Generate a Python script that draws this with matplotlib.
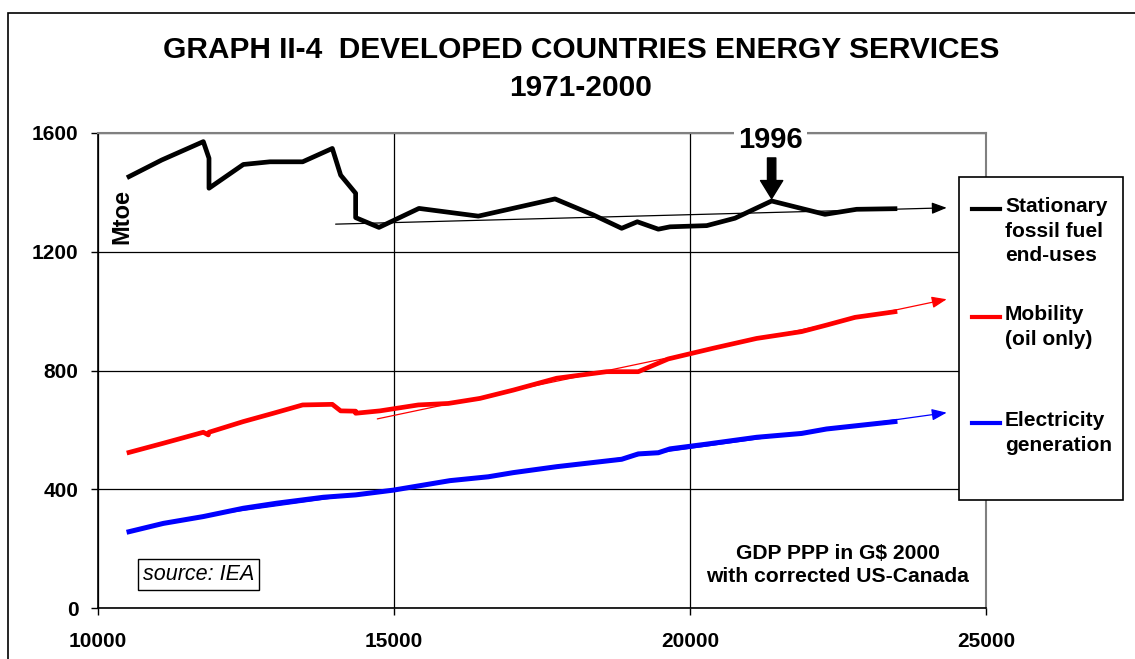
import matplotlib
matplotlib.use("Agg")
import matplotlib.pyplot as plt
from matplotlib.lines import Line2D
from matplotlib.patches import Rectangle

plt.rcParams['font.family'] = ['Liberation Sans', 'DejaVu Sans']

# GDP PPP (G$ 2000) and energy services (Mtoe), 1971-2000
gdp_stat = [10524, 11076, 11779, 11875, 11875, 12455, 12905, 13457, 13958, 14099,
            14352, 14352, 14746, 15422, 16424, 17720, 18367, 18846, 19110, 19465,
            19662, 20282, 20760, 21379, 22280, 22815, 23462]
stationary = [1453, 1509, 1571, 1515, 1414, 1494, 1503, 1503, 1548, 1458,
              1397, 1315, 1282, 1346, 1320, 1378, 1324, 1279, 1301, 1276,
              1284, 1288, 1313, 1371, 1326, 1343, 1345]

gdp_mob = [10524, 11104, 11779, 11863, 11875, 12455, 12962, 13457, 13958, 14099,
           14352, 14352, 14763, 15411, 15917, 16452, 17015, 17748, 18592, 19126,
           19633, 20393, 21125, 21885, 22307, 22787, 23462]
mobility = [524, 555, 592, 583, 592, 628, 656, 684, 686, 664,
            663, 656, 664, 684, 689, 706, 734, 774, 796, 796,
            839, 875, 908, 931, 953, 979, 998]

gdp_elec = [10524, 11104, 11779, 12455, 13019, 13806, 14352, 14988, 15946, 16593,
            17015, 17748, 18846, 19126, 19465, 19662, 20282, 21125, 21885, 22307, 23462]
electricity = [257, 285, 308, 336, 353, 373, 381, 397, 429, 442,
               456, 476, 501, 519, 523, 536, 552, 575, 588, 603, 628]

# trend arrows: (gdp start, value start, gdp end, value end)
trend_stat = (14014, 1293, 24336, 1348)
trend_mob = (14718, 637, 24336, 1040)
trend_elec = (11779, 310, 24336, 658)

peak_gdp, peak_val = 21379, 1371

x_ticks = [10000, 15000, 20000, 25000]
y_ticks = [0, 400, 800, 1200, 1600]

legend_labels = ["Stationary\nfossil fuel\nend-uses", "Mobility\n(oil only)",
                 "Electricity\ngeneration"]
colors = ["black", "red", "blue"]

W, H = 1135, 659
fig = plt.figure(figsize=(W / 100, H / 100), dpi=100)
ax = fig.add_axes([98 / W, 1 - 608 / H, 888 / W, 475 / H])

# outer frame of the chart
fig.add_artist(Rectangle((8 / W, -0.2), 1.2, 1 - 13 / H + 0.2, transform=fig.transFigure,
                         fill=False, edgecolor="black", linewidth=1.2))

ax.plot(gdp_stat, stationary, color="black", lw=3.4, zorder=4)
ax.plot(gdp_mob, mobility, color="red", lw=3.4, zorder=4)
ax.plot(gdp_elec, electricity, color="blue", lw=3.6, zorder=4)

for tr, c in zip([trend_stat, trend_mob, trend_elec], colors):
    ax.annotate("", xy=(tr[2], tr[3]), xytext=(tr[0], tr[1]),
                arrowprops=dict(arrowstyle="-|>,head_length=0.9,head_width=0.35",
                                color=c, lw=0.9, shrinkA=0, shrinkB=0), zorder=3)

ax.set_xlim(10000, 25000)
ax.set_ylim(0, 1600)
ax.set_xticks(x_ticks)
ax.set_yticks(y_ticks)
ax.set_xticklabels([str(v) for v in x_ticks])
ax.set_yticklabels([str(v) for v in y_ticks])
ax.tick_params(axis="both", labelsize=15, direction="out", length=5, width=1)
ax.tick_params(axis="y", pad=9)
ax.tick_params(axis="x", pad=12)
for lab in ax.get_xticklabels() + ax.get_yticklabels():
    lab.set_fontweight("bold")

ax.grid(True, color="black", lw=0.9)
ax.set_axisbelow(True)
ax.spines["top"].set_color("#808080")
ax.spines["right"].set_color("#808080")
ax.spines["top"].set_linewidth(1.5)
ax.spines["right"].set_linewidth(1.5)
ax.spines["left"].set_linewidth(1.2)
ax.spines["bottom"].set_linewidth(1.2)

fig.text(581 / W, 1 - 50 / H, "GRAPH II-4  DEVELOPED COUNTRIES ENERGY SERVICES",
         ha="center", va="center", fontsize=21.5, fontweight="bold")
fig.text(581 / W, 1 - 88 / H, "1971-2000", ha="center", va="center",
         fontsize=21.5, fontweight="bold")

ax.text(10405, 1320, "Mtoe", rotation=90, ha="center", va="center",
        fontsize=17, fontweight="bold", zorder=5)

# 1996 marker
ax.text(peak_gdp - 15, 1578, "1996", ha="center", va="center", fontsize=21,
        fontweight="bold", zorder=6,
        bbox=dict(facecolor="white", edgecolor="none", pad=3))
ax.annotate("", xy=(peak_gdp, peak_val + 8), xytext=(peak_gdp, peak_val + 145),
            arrowprops=dict(arrowstyle="simple,head_length=1.3,head_width=1.6,tail_width=0.6",
                            color="black", shrinkA=0, shrinkB=0), zorder=6)

ax.text(10760, 113, "source: IEA", ha="left", va="center", fontsize=15.5,
        fontstyle="italic", zorder=5,
        bbox=dict(facecolor="white", edgecolor="black", lw=1, pad=3.5))

ax.text(22500, 145, "GDP PPP in G$ 2000\nwith corrected US-Canada", ha="center",
        va="center", fontsize=15.2, fontweight="bold", linespacing=1.3, zorder=5)

# legend box drawn over the right edge of the plot
fig.add_artist(Rectangle((959 / W, 1 - 500 / H), 164 / W, 323 / H,
                         transform=fig.transFigure, facecolor="white",
                         edgecolor="black", linewidth=1.2, zorder=10))
leg_y = [209, 317, 423]
for lab, c, yy in zip(legend_labels, colors, leg_y):
    fig.add_artist(Line2D([972 / W, 1000 / W], [1 - yy / H, 1 - yy / H],
                          transform=fig.transFigure, color=c, lw=3, zorder=11))
    fig.text(1005 / W, 1 - (yy - 12) / H, lab, ha="left", va="top", fontsize=15,
             fontweight="bold", linespacing=1.38, zorder=11)

fig.savefig("out.png", dpi=100)
